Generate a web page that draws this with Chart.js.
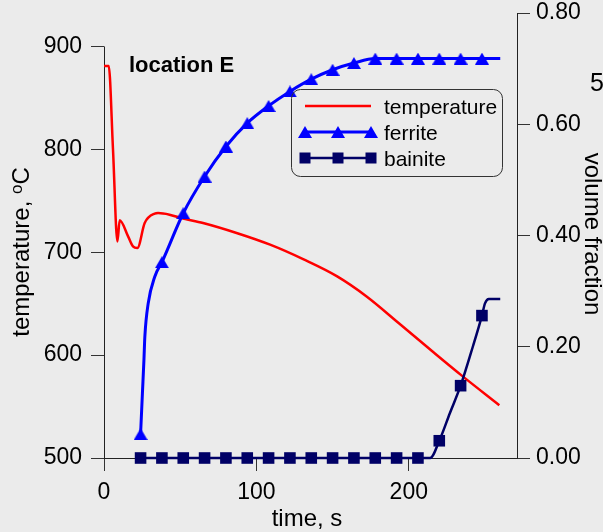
<!DOCTYPE html>
<html>
<head>
<meta charset="utf-8">
<script src="https://cdn.jsdelivr.net/npm/chart.js@4/dist/chart.umd.min.js"></script>
<style>
  html, body { margin: 0; padding: 0; background: #ebebeb; }
  #chart { display: block; }
</style>
</head>
<body>
<canvas id="chart" width="603" height="532"></canvas>
<script>
// values
const tempTime  = [0, 3.1, 5.9, 8.8, 10.3, 15.8, 19, 21.9, 26.7, 33.3, 35.5, 43, 50.4, 65, 87, 109, 131, 153, 172.3, 193.5, 216, 235, 259.4];
const tempValue = [881, 881, 800, 710.5, 731, 715.4, 705.6, 704, 728.4, 737.5, 738, 736.5, 733.3, 728.4, 718.7, 707.3, 693, 676.5, 657, 631, 603, 579.8, 551.3];

// times where the symbols sit
const markerTimes = [24, 38, 52, 66, 80, 94, 108, 122, 136, 150, 164, 178, 192, 206, 220, 234, 248];

const ferriteTime  = [24, 25.2, 26.2, 26.8, 29, 33.3, 38, 52, 66, 80, 94, 108, 122, 136, 150, 164, 178, 192, 206, 220, 234, 248, 260];
const ferriteValue = [0.043, 0.116, 0.176, 0.218, 0.278, 0.326, 0.352, 0.44, 0.506, 0.56, 0.602, 0.633, 0.659, 0.681, 0.698, 0.71, 0.718, 0.718, 0.718, 0.718, 0.718, 0.718, 0.718];

const bainiteTime  = [24, 38, 52, 66, 80, 94, 108, 122, 136, 150, 164, 178, 192, 206, 214, 220, 227, 234, 242, 248, 250, 252.5, 260];
const bainiteValue = [0, 0, 0, 0, 0, 0, 0, 0, 0, 0, 0, 0, 0, 0, 0, 0.031, 0.081, 0.13, 0.2, 0.256, 0.278, 0.286, 0.286];

const xTicks = [0, 100, 200];
const tempTicks = [500, 600, 700, 800, 900];
const fracTicks = [0, 0.2, 0.4, 0.6, 0.8];

const FAMILY = "'Liberation Sans', Arial, sans-serif";
const RED = '#ff0000';
const BLUE = '#0000ff';
const NAVY = '#000066';

Chart.defaults.font.family = FAMILY;
Chart.defaults.color = '#000';

function toPoints(xs, ys) {
    return xs.map((x, i) => ({ x: x, y: ys[i] }));
}

// triangle symbol, centred on its mid height like the original
function triangleImage(color) {
    const c = document.createElement('canvas');
    c.width = 14;
    c.height = 12;
    const g = c.getContext('2d');
    g.fillStyle = color;
    g.beginPath();
    g.moveTo(7, 0);
    g.lineTo(14, 12);
    g.lineTo(0, 12);
    g.closePath();
    g.fill();
    return c;
}
const triangle = triangleImage(BLUE);

function markerRadius(r) {
    return ctx => markerTimes.includes(ctx.raw.x) ? r : 0;
}

function drawSquare(ctx, x, y, color) {
    ctx.fillStyle = color;
    ctx.fillRect(x - 5.5, y - 5.5, 11, 11);
}

// fixed box sizes so the plot area lands where the original has it
function fixWidth(w) {
    return s => { s.width = w; s.paddingTop = 0; s.paddingBottom = 0; };
}

const extras = {
    id: 'extras',
    beforeDatasetsDraw(chart) {
        // left axis line only runs up to 900
        const ctx = chart.ctx;
        const area = chart.chartArea;
        const top = chart.scales.yT.getPixelForValue(900);
        ctx.save();
        ctx.strokeStyle = '#222';
        ctx.lineWidth = 1;
        ctx.beginPath();
        ctx.moveTo(area.left + 0.5, top);
        ctx.lineTo(area.left + 0.5, area.bottom);
        ctx.stroke();
        ctx.restore();
    },
    afterDraw(chart) {
        const ctx = chart.ctx;
        ctx.save();

        // title inside the plot
        ctx.fillStyle = '#000';
        ctx.textBaseline = 'alphabetic';
        ctx.textAlign = 'left';
        ctx.font = 'bold 22px ' + FAMILY;
        ctx.fillText('location E', 129, 72);

        // stray label cut by the right edge
        ctx.font = '25px ' + FAMILY;
        ctx.fillText('5', 590, 91);

        // x title
        ctx.font = '24px ' + FAMILY;
        ctx.textAlign = 'center';
        ctx.fillText('time, s', 307, 526);

        // right title, read top to bottom
        ctx.save();
        ctx.translate(585, 234);
        ctx.rotate(Math.PI / 2);
        ctx.fillText('volume fraction', 0, 0);
        ctx.restore();

        // left title with a raised o
        ctx.save();
        ctx.translate(29, 252);
        ctx.rotate(-Math.PI / 2);
        ctx.textAlign = 'left';
        const main = 'temperature, ';
        ctx.font = '24px ' + FAMILY;
        const w1 = ctx.measureText(main).width;
        const wC = ctx.measureText('C').width;
        ctx.font = '17px ' + FAMILY;
        const wo = ctx.measureText('o').width;
        const start = -(w1 + wo + wC) / 2;
        ctx.font = '24px ' + FAMILY;
        ctx.fillText(main, start, 0);
        ctx.fillText('C', start + w1 + wo, 0);
        ctx.font = '17px ' + FAMILY;
        ctx.fillText('o', start + w1, -7);
        ctx.restore();

        // legend box
        ctx.strokeStyle = '#333';
        ctx.lineWidth = 1;
        ctx.beginPath();
        ctx.roundRect(291.5, 89.5, 211, 87, 9);
        ctx.stroke();

        const x1 = 305, x2 = 371, xm = 338;
        const rows = [
            { label: 'temperature', y: 106, color: RED, width: 2.5 },
            { label: 'ferrite', y: 132, color: BLUE, width: 3 },
            { label: 'bainite', y: 158, color: NAVY, width: 2.5 }
        ];
        rows.forEach((r, i) => {
            ctx.strokeStyle = r.color;
            ctx.lineWidth = r.width;
            ctx.beginPath();
            ctx.moveTo(x1, r.y);
            ctx.lineTo(x2, r.y);
            ctx.stroke();
            [x1, xm, x2].forEach(x => {
                if (i === 1) ctx.drawImage(triangle, x - 7, r.y - 6);
                if (i === 2) drawSquare(ctx, x, r.y, NAVY);
            });
            ctx.fillStyle = '#000';
            ctx.font = '21px ' + FAMILY;
            ctx.textAlign = 'left';
            ctx.fillText(r.label, 384, r.y + 7.5);
        });

        ctx.restore();
    }
};

const ctx = document.getElementById('chart').getContext('2d');

new Chart(ctx, {
    type: 'line',
    data: {
        datasets: [
            {
                label: 'ferrite',
                data: toPoints(ferriteTime, ferriteValue),
                yAxisID: 'yF',
                borderColor: BLUE,
                backgroundColor: BLUE,
                borderWidth: 3,
                pointStyle: triangle,
                pointRadius: markerRadius(7),
                pointHoverRadius: 0,
                cubicInterpolationMode: 'monotone',
                clip: false
            },
            {
                label: 'bainite',
                data: toPoints(bainiteTime, bainiteValue),
                yAxisID: 'yF',
                borderColor: NAVY,
                backgroundColor: NAVY,
                borderWidth: 2.5,
                pointStyle: 'rect',
                pointRadius: markerRadius(8.2),
                pointBorderWidth: 0,
                pointHoverRadius: 0,
                cubicInterpolationMode: 'monotone',
                clip: false
            },
            {
                label: 'temperature',
                data: toPoints(tempTime, tempValue),
                yAxisID: 'yT',
                borderColor: RED,
                borderWidth: 2.5,
                pointRadius: 0,
                cubicInterpolationMode: 'monotone',
                clip: false
            }
        ]
    },
    options: {
        responsive: false,
        animation: false,
        devicePixelRatio: 1,
        layout: { padding: { top: 13, left: 0, right: 0, bottom: 0 } },
        plugins: {
            legend: { display: false },
            title: { display: false },
            tooltip: { enabled: false }
        },
        scales: {
            x: {
                type: 'linear',
                min: 0,
                max: 271,
                afterFit: s => { s.height = 74; s.paddingLeft = 0; s.paddingRight = 0; },
                afterBuildTicks: s => { s.ticks = xTicks.map(v => ({ value: v })); },
                grid: { drawOnChartArea: false, tickLength: 13, color: '#333' },
                border: { color: '#222' },
                ticks: { font: { size: 23 }, color: '#000', padding: 8, maxRotation: 0 }
            },
            yT: {
                type: 'linear',
                position: 'left',
                min: 500,
                max: 932.5,
                afterFit: fixWidth(104),
                afterBuildTicks: s => { s.ticks = tempTicks.map(v => ({ value: v })); },
                grid: { drawOnChartArea: false, tickLength: 13, color: '#333' },
                border: { display: false },
                ticks: { font: { size: 23 }, color: '#000', padding: 9 }
            },
            yF: {
                type: 'linear',
                position: 'right',
                min: 0,
                max: 0.8,
                afterFit: fixWidth(86),
                afterBuildTicks: s => { s.ticks = fracTicks.map(v => ({ value: v })); },
                grid: { drawOnChartArea: false, tickLength: 13, color: '#333' },
                border: { color: '#222' },
                ticks: {
                    font: { size: 23 },
                    color: '#000',
                    padding: 6,
                    callback: v => Number(v).toFixed(2)
                }
            }
        }
    },
    plugins: [extras]
});
</script>
</body>
</html>
